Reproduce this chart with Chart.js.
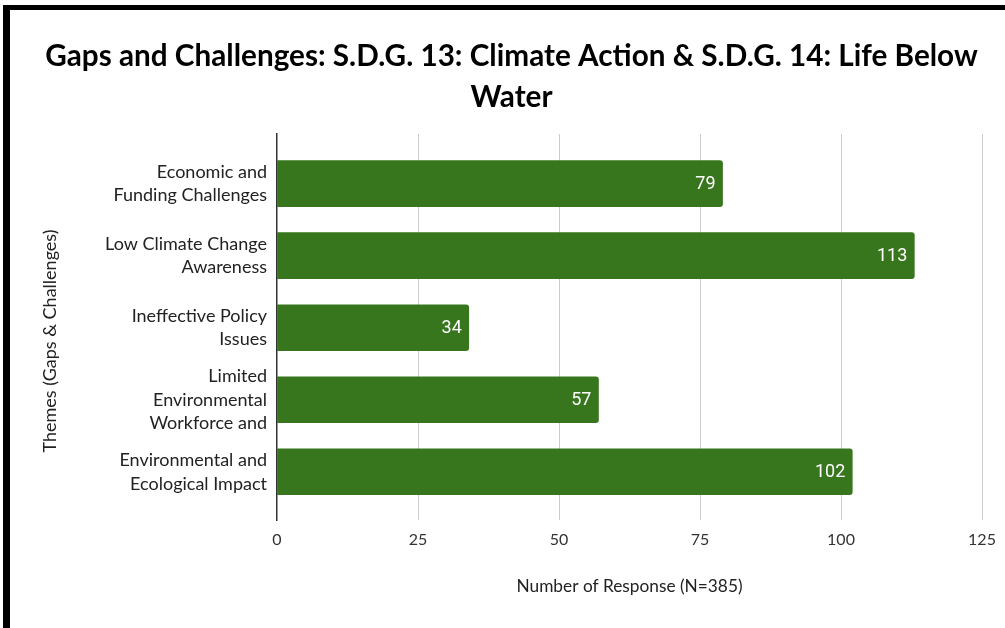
<!DOCTYPE html>
<html>
<head>
<meta charset="utf-8">
<script src="https://cdn.jsdelivr.net/npm/chart.js@4.4.1/dist/chart.umd.min.js"></script>
<style>
  html, body { margin: 0; padding: 0; background: #fff; overflow: hidden; width: 1005px; height: 628px; }
  #frame { position: absolute; left: 3px; top: 5px; width: 1100px; height: 700px; border-left: 7px solid #000; border-top: 5px solid #000; }
  #chart { position: absolute; left: 10px; top: 10px; }
</style>
</head>
<body>
<div id="frame"></div>
<canvas id="chart" width="1003" height="618"></canvas>
<script>
const themes = [
  ["Economic and", "Funding Challenges"],
  ["Low Climate Change", "Awareness"],
  ["Ineffective Policy", "Issues"],
  ["Limited", "Environmental", "Workforce and"],
  ["Environmental and", "Ecological Impact"],
];
const responses = [79, 113, 34, 57, 102];
const xMin = 0;
const xMax = 125;
const xStep = 25;

const titleLines = [
  "Gaps and Challenges: S.D.G. 13: Climate Action & S.D.G. 14: Life Below",
  "Water",
];
const xTitle = "Number of Response (N=385)";
const yTitleText = "Themes (Gaps & Challenges)";

const FONT = "Lato";
const barColor = "#38761d";

// white counts at the end of each bar
const barValueLabels = {
  id: "barValueLabels",
  afterDatasetsDraw(chart) {
    const ctx = chart.ctx;
    const meta = chart.getDatasetMeta(0);
    ctx.save();
    ctx.font = "18px Roboto";
    ctx.fillStyle = "#ffffff";
    ctx.textAlign = "right";
    ctx.textBaseline = "middle";
    meta.data.forEach((bar, i) => {
      ctx.fillText(String(responses[i]), bar.x - 7, bar.y + 1);
    });
    ctx.restore();
  },
};

// rotated axis title on the left, sits a bit below the middle of the plot
const yAxisTitle = {
  id: "yAxisTitle",
  afterDraw(chart) {
    const { ctx, chartArea } = chart;
    ctx.save();
    ctx.translate(40, (chartArea.top + chartArea.bottom) / 2 + 14);
    ctx.rotate(-Math.PI / 2);
    ctx.font = "18px " + FONT;
    ctx.fillStyle = "#222";
    ctx.textAlign = "center";
    ctx.textBaseline = "middle";
    ctx.fillText(yTitleText, 0, 0);
    ctx.restore();
  },
};

const ctx = document.getElementById("chart").getContext("2d");

new Chart(ctx, {
  type: "bar",
  data: {
    datasets: [
      {
        data: responses.map((v, i) => ({ x: v, y: i })),
        backgroundColor: barColor,
        borderRadius: 3,
        barThickness: 46,
      },
    ],
  },
  options: {
    indexAxis: "y",
    responsive: false,
    animation: false,
    devicePixelRatio: 1,
    layout: {
      // equal side padding keeps the title centred on the canvas
      padding: { left: 31, right: 31, top: 0, bottom: 0 },
    },
    scales: {
      x: {
        type: "linear",
        min: xMin,
        max: xMax,
        afterFit(scale) {
          scale.height = 108;
        },
        grid: {
          color: (c) => (c.tick && c.tick.value === 0 ? "rgba(0,0,0,0)" : "#cccccc"),
          drawTicks: false,
          lineWidth: 1,
        },
        border: { display: false },
        ticks: {
          stepSize: xStep,
          padding: 10,
          color: "#333",
          font: { family: FONT, size: 16 },
        },
        title: {
          display: true,
          text: xTitle,
          color: "#222",
          font: { family: FONT, size: 17.3 },
          padding: { top: 0, bottom: 31 },
        },
      },
      y: {
        type: "linear",
        offset: false,
        reverse: true,
        min: -0.69,
        max: 4.67,
        afterFit(scale) {
          scale.width = 236;
        },
        grid: { display: false, offset: false },
        border: { display: true, color: "#333", width: 1.5 },
        ticks: {
          stepSize: 1,
          autoSkip: false,
          padding: 2,
          color: "#222",
          font: { family: FONT, size: 18, lineHeight: 1.33 },
          callback: (v) => (Number.isInteger(v) ? themes[v] : ""),
        },
      },
    },
    plugins: {
      legend: { display: false },
      tooltip: { enabled: false },
      title: {
        display: true,
        text: titleLines,
        color: "#000",
        font: { family: FONT, size: 29.7, weight: "bold", lineHeight: 1.38 },
        padding: { top: 26, bottom: 16 },
      },
    },
  },
  plugins: [barValueLabels, yAxisTitle],
});
</script>
</body>
</html>
